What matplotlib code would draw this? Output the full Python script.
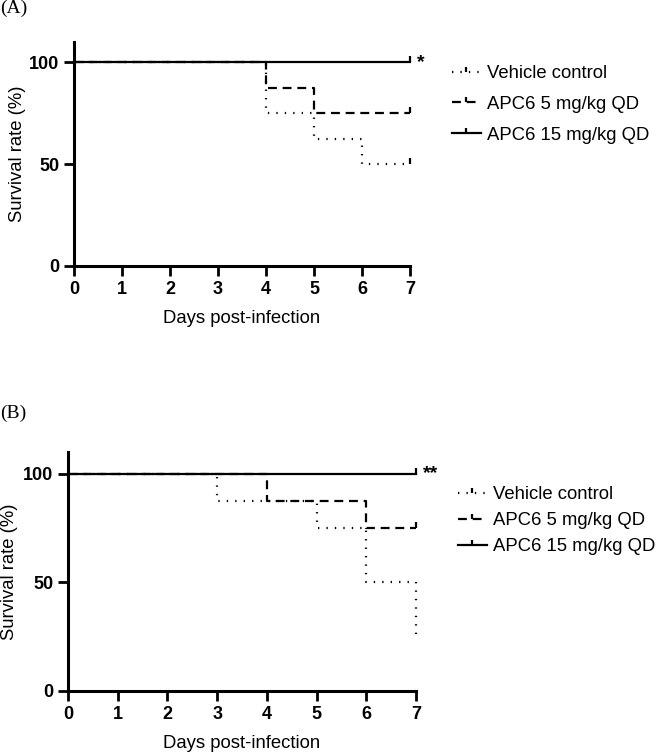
import matplotlib
matplotlib.use("Agg")
import matplotlib.pyplot as plt
from matplotlib.lines import Line2D
from matplotlib.path import Path

plt.rcParams['font.family'] = ['Liberation Sans', 'DejaVu Sans']

# Survival data (days, % survival), Kaplan-Meier steps
labels = ["Vehicle control", "APC6 5 mg/kg QD", "APC6 15 mg/kg QD"]

a_days = [[0, 4, 5, 6, 7], [0, 4, 5, 7], [0, 7]]
a_surv = [[100, 75, 62.5, 50, 50], [100, 87.5, 75, 75], [100, 100]]
a_cens = [True, True, True]
a_sig = "*"

b_days = [[0, 3, 5, 6, 7], [0, 4, 6, 7], [0, 7]]
b_surv = [[100, 87.5, 75, 50, 25], [100, 87.5, 75, 75], [100, 100]]
b_cens = [False, True, True]
b_sig = "**"

styles = [(0, (0.6, 3.2)), (0, (4, 2.6)), '-']
tick_up = Path([(0, 0), (0, 1)])

fig = plt.figure(figsize=(6.64, 7.55), dpi=100)


def panel(rect, days, surv, cens, sig, tag, tag_y, leg_xy, leg_space, ypad):
    ax = fig.add_axes(rect)
    for d, s, c, ls in zip(days, surv, cens, styles):
        ax.step(d, s, where='post', color='black', lw=1.6, ls=ls,
                clip_on=False, dash_capstyle='butt')
        if c:
            ax.plot(d[-1], s[-1], marker=tick_up, ms=9, mew=1.6,
                    color='black', ls='none', clip_on=False)
    ax.set_xlim(0, 7)
    ax.set_ylim(0, 110)
    ax.set_xticks(range(8))
    ax.set_yticks([0, 50, 100])
    for side in ['top', 'right']:
        ax.spines[side].set_visible(False)
    for side in ['left', 'bottom']:
        ax.spines[side].set_linewidth(2.2)
    ax.tick_params(width=2, length=7, labelsize=13)
    for t in ax.get_xticklabels() + ax.get_yticklabels():
        t.set_fontweight('bold')
    ax.set_xlabel("Days post-infection", fontsize=13.3, labelpad=9)
    ax.set_ylabel("Survival rate (%)", fontsize=13.3, labelpad=ypad)
    ax.text(7.15, 100, sig, fontsize=14, fontweight='bold', va='center',
            ha='left', transform=ax.transData)
    fig.text(0.0, tag_y, tag, fontsize=14, family='Liberation Serif',
             va='top', ha='left')
    handles = [Line2D([], [], color='black', lw=1.6, ls=ls,
                      marker=tick_up, ms=7, mew=1.6,
                      dash_capstyle='butt')
               for ls in styles]
    fig.legend(handles, labels, loc='upper left', bbox_to_anchor=leg_xy,
               frameon=False, fontsize=13.3, handlelength=1.55,
               handletextpad=0.35, labelspacing=leg_space, numpoints=1,
               borderpad=0, borderaxespad=0)
    return ax


panel([0.1114, 0.6477, 0.5061, 0.2967], a_days, a_surv, a_cens, a_sig,
      "(A)", 1.0, (452 / 664, 1 - 65 / 755), 0.75, 2)
panel([0.1024, 0.0848, 0.5241, 0.3166], b_days, b_surv, b_cens, b_sig,
      "(B)", 1 - 405 / 755, (458 / 664, 1 - 486 / 755), 0.5, 4)

fig.savefig("out.png", dpi=100)
